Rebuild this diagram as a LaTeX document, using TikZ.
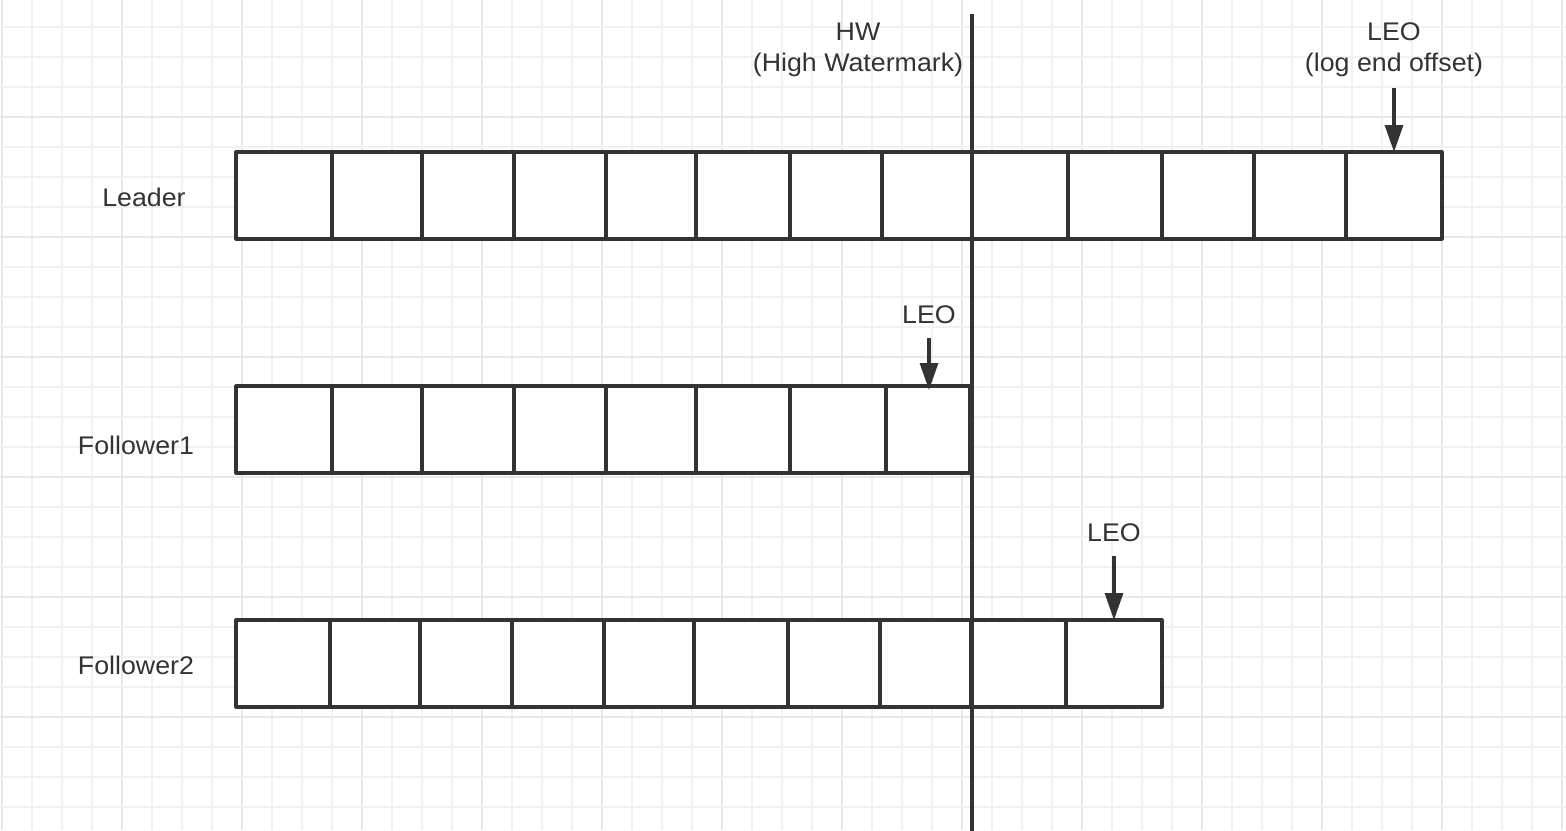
\documentclass[tikz,border=0pt]{standalone}
\usepackage{fontspec}
\setmainfont{Liberation Sans}[FakeStretch=1.05]
\usetikzlibrary{arrows.meta}
\definecolor{ink}{HTML}{333333}
\definecolor{gridminor}{HTML}{F1F1F1}
\definecolor{gridmajor}{HTML}{E8E8E8}
\tikzset{
  cell/.style={draw=ink, line width=3.2pt, fill=white, inner sep=0pt, outer sep=0pt, minimum height=87pt, line join=round},
  lbl/.style={text=ink, inner sep=0pt, font=\fontsize{25.5}{30}\selectfont},
  ptr/.style={draw=ink, line width=3.2pt, -{Triangle[width=18pt,length=27pt]}},
  hwline/.style={draw=ink, line width=3.2pt}
}
\begin{document}
\begin{tikzpicture}[x=1pt,y=-1pt]
\useasboundingbox[fill=white] (0,0) rectangle (1566,830);
% grid
\foreach \k in {0,...,52}{
  \pgfmathtruncatemacro{\m}{mod(\k,4)}
  \ifnum\m=0
    \draw[gridmajor, line width=1.6pt] ({1.7+30*\k},0) -- ({1.7+30*\k},830);
  \else
    \draw[gridminor, line width=1.6pt] ({1.7+30*\k},0) -- ({1.7+30*\k},830);
  \fi
}
\foreach \k in {0,...,26}{
  \pgfmathtruncatemacro{\m}{mod(\k,4)}
  \ifnum\m=3
    \draw[gridmajor, line width=1.6pt] (0,{26.7+30*\k}) -- (1566,{26.7+30*\k});
  \else
    \draw[gridminor, line width=1.6pt] (0,{26.7+30*\k}) -- (1566,{26.7+30*\k});
  \fi
}
% Leader row
\foreach \a/\b [count=\i] in {236/332,332/422,422/514,514/606,606/696,696/790,790/882,882/972,972/1068,1068/1162,1162/1254,1254/1346,1346/1442}{
  \node[cell, minimum width={(\b-\a)*1pt}] (L\i) at ({(\a+\b)/2},195.5) {};
}
% Follower1 row
\foreach \a/\b [count=\i] in {236/332,332/422,422/514,514/606,606/696,696/790,790/886,886/970}{
  \node[cell, minimum width={(\b-\a)*1pt}] (A\i) at ({(\a+\b)/2},429.5) {};
}
% Follower2 row
\foreach \a/\b [count=\i] in {236/330,330/420,420/512,512/604,604/694,694/788,788/880,880/971,971/1066,1066/1162}{
  \node[cell, minimum width={(\b-\a)*1pt}] (B\i) at ({(\a+\b)/2},663.5) {};
}
% row labels
\node[lbl, anchor=base] (leader) at (144,206) {Leader};
\node[lbl, anchor=base] (f1) at (136,454) {Follower1};
\node[lbl, anchor=base] (f2) at (136,674) {Follower2};
% HW line
\coordinate (hwtop) at (972,14);
\coordinate (hwbot) at (972,832);
\draw[hwline] (hwtop) -- (hwbot);
\node[lbl, anchor=base] (hw) at (858,40) {HW};
\node[lbl, anchor=base] (hwsub) at (858,71) {(High Watermark)};
% LEO labels and pointers
\node[lbl, anchor=base] (leo0) at (1394,40) {LEO};
\node[lbl, anchor=base] (leo0sub) at (1394,71) {(log end offset)};
\coordinate (p0) at (1394,88);
\draw[ptr] (p0) -- (L13.north);
\node[lbl, anchor=base] (leo1) at (929,323) {LEO};
\coordinate (p1) at (929,338);
\draw[ptr, shorten >=-4pt] (p1) -- (p1 |- A8.north);
\node[lbl, anchor=base] (leo2) at (1114,541) {LEO};
\coordinate (p2) at (1114,556);
\draw[ptr] (p2) -- (B10.north);
\end{tikzpicture}
\end{document}
